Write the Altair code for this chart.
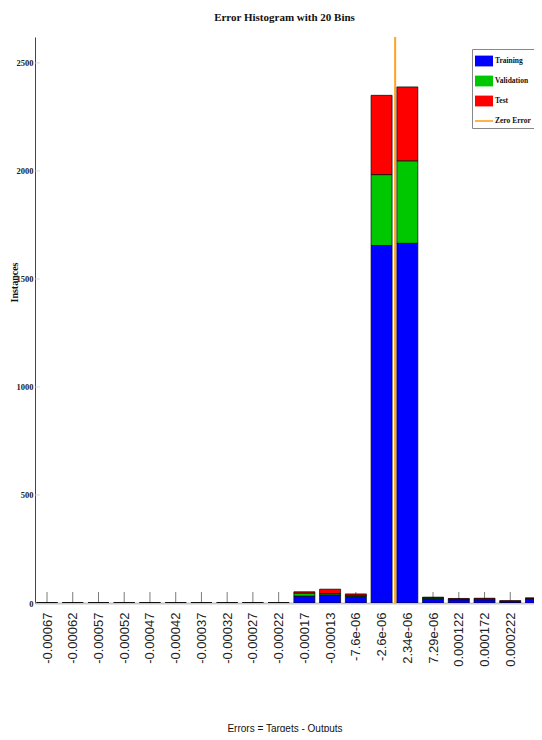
import json
import altair as alt
import pandas as pd

# ---- data ----
bin_labels = ["-0.00067", "-0.00062", "-0.00057", "-0.00052", "-0.00047",
              "-0.00042", "-0.00037", "-0.00032", "-0.00027", "-0.00022",
              "-0.00017", "-0.00013", "-7.6e-06", "-2.6e-06", "2.34e-06",
              "7.29e-06", "0.000122", "0.000172", "0.000222", "0.000271"]
bin_centers = [-0.0006700, -0.0006205, -0.0005709, -0.0005214, -0.0004719,
               -0.0004223, -0.0003728, -0.0003233, -0.0002738, -0.0002242,
               -0.0001747, -0.0001252, -0.0000756, -0.0000261, 0.0000234,
               0.0000729, 0.0001225, 0.0001720, 0.0002215, 0.0002710]
training = [0, 0, 0, 0, 0, 0, 0, 0, 0, 0, 32, 38, 30, 1655, 1665, 20, 15, 15, 5, 18]
validation = [0, 0, 0, 0, 0, 0, 0, 0, 0, 0, 14, 6, 6, 328, 382, 4, 3, 4, 3, 3]
test = [0, 0, 0, 0, 0, 0, 0, 0, 0, 0, 6, 20, 6, 367, 342, 3, 3, 3, 3, 3]
series_names = ["Training", "Validation", "Test"]
series_colors = ["#0000ff", "#00c800", "#ff0000"]
legend_names = ["Training", "Validation", "Test", "Zero Error"]
legend_colors = ["#0000ff", "#00c800", "#ff0000", "#ffa21f"]
y_ticks = [0, 500, 1000, 1500, 2000, 2500]
zero_error = [0.0]

rows = []
for i, c in enumerate(bin_centers):
    for k, (name, vals) in enumerate(zip(series_names, [training, validation, test])):
        rows.append({"center": c, "series": name, "ord": k, "count": vals[i]})
bars_df = pd.DataFrame(rows)
centers_df = pd.DataFrame({"center": bin_centers})
yt_df = pd.DataFrame({"v": y_ticks})
# legend entries: drawn underneath the tallest bar, so only their legend shows
leg_df = pd.DataFrame({"series": legend_names,
                       "center": [bin_centers[13]] * len(legend_names),
                       "count": [200] * len(legend_names)})
zero_df = pd.DataFrame({"z": zero_error})

label_expr = f"{json.dumps(bin_labels)}[indexof({json.dumps(bin_centers)}, datum.value)]"

xscale = alt.Scale(domain=[-0.0006931, 0.0002672], nice=False, zero=False, padding=0)
yscale = alt.Scale(domain=[0, 2620], nice=False, padding=0)

x_axis = alt.Axis(values=bin_centers, labelExpr=label_expr, labelAngle=270,
                  labelOverlap=False, ticks=False, grid=False, labelPadding=9,
                  labelFont="Liberation Sans", labelFontSize=13, labelColor="#222",
                  domainColor="#c8c8c8", domainWidth=2,
                  title="Errors = Targets - Outputs", titleFont="Liberation Sans",
                  titleFontSize=10, titleFontWeight="normal", titleColor="#111",
                  titleY=125, titleBaseline="middle")
y_axis = alt.Axis(values=y_ticks, format="d", ticks=False, grid=False, labelPadding=2,
                  labelFont="Liberation Serif", labelFontWeight="bold",
                  labelFontSize=8.5, labelColor="#222",
                  domainColor="#444", domainWidth=1,
                  title="Instances", titleFont="Liberation Serif",
                  titleFontSize=10, titleFontWeight="bold", titleColor="#111",
                  titleX=-21, titleY=245, titleBaseline="middle")

X = lambda f: alt.X(f, scale=xscale, axis=x_axis)

xticks = alt.Chart(centers_df).mark_tick(
    orient="vertical", size=11, thickness=1, color="#444", yOffset=-5.5
).encode(
    x=X("center:Q"),
    y=alt.datum(0, scale=yscale),
)

yticks = alt.Chart(yt_df).mark_tick(
    orient="horizontal", size=5, thickness=1, color="#cccccc", xOffset=2.5
).encode(
    x=alt.value(0),
    y=alt.Y("v:Q", scale=yscale, axis=y_axis),
)

rect_path = "M-1,-0.6H1V0.6H-1Z"
line_path = "M-1,-0.09H1V0.09H-1Z"
legend_layer = alt.Chart(leg_df).mark_point(filled=True, opacity=1).encode(
    x=X("center:Q"),
    y=alt.Y("count:Q", scale=yscale, axis=y_axis),
    color=alt.Color("series:N",
                    scale=alt.Scale(domain=legend_names, range=legend_colors),
                    legend=alt.Legend(title=None, orient="none", legendX=437, legendY=12,
                                      symbolSize=324, symbolOpacity=1,
                                      labelFont="Liberation Serif", labelFontWeight="bold",
                                      labelFontSize=7.5, labelColor="#111", labelOffset=2,
                                      rowPadding=5, padding=3, strokeColor="#888",
                                      fillColor="#ffffff", symbolStrokeWidth=0)),
    shape=alt.Shape("series:N",
                    scale=alt.Scale(domain=legend_names,
                                    range=[rect_path, rect_path, rect_path, line_path])),
)

bars = alt.Chart(bars_df).mark_bar(size=21, stroke="#000", strokeWidth=0.7, clip=True).encode(
    x=X("center:Q"),
    y=alt.Y("count:Q", stack="zero", scale=yscale, axis=y_axis),
    fill=alt.Fill("series:N", scale=alt.Scale(domain=series_names, range=series_colors), legend=None),
    order=alt.Order("ord:Q"),
)

zero_line = alt.Chart(zero_df).mark_rule(color="#ffa21f", strokeWidth=2).encode(
    x=X("z:Q"),
)

chart = alt.layer(xticks, yticks, legend_layer, bars, zero_line).properties(
    width=499, height=566,
    title=alt.TitleParams("Error Histogram with 20 Bins", font="Liberation Serif",
                          fontSize=11, fontWeight="bold", color="#111", offset=13),
    autosize=alt.AutoSizeParams(type="none"),
    padding={"left": 27, "top": 29, "right": 0, "bottom": 129},
    background="white",
).configure_view(stroke=None).configure_axisX(labelOverlap=False)

chart.save("out.html", embed_options={"renderer": "svg", "actions": False})
